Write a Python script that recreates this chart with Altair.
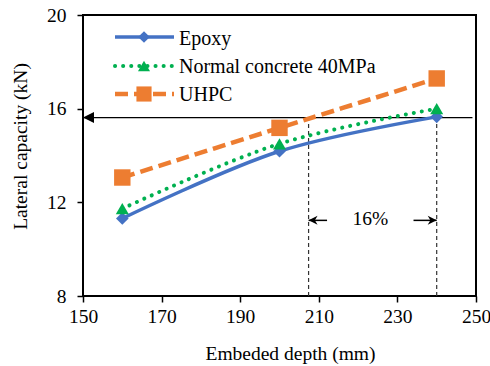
import altair as alt
import pandas as pd

# ---------------- data ----------------
depth = [160, 200, 240]
series = ["Epoxy", "Normal concrete 40MPa", "UHPC"]
epoxy = [11.31, 14.18, 15.65]
normal = [11.73, 14.50, 16.00]
uhpc = [13.06, 15.18, 17.29]

x_ticks = [150, 170, 190, 210, 230, 250]
y_ticks = [8, 12, 16, 20]

ref_level = 15.62          # horizontal reference line (kN)
ref_x_start = 150.0
ref_x_end = 249.1
span_left = 207.4          # left dashed line (mm)
span_right = 240.0         # right dashed line (mm)
span_y = 11.23             # level of the 16% span arrows
shaft_left_end = 212.1
shaft_right_start = 234.1
span_label = "16%"
span_label_x = 223.1

# ---------------- styles ----------------
colors = ["#4472C4", "#00B050", "#ED7D31"]
shapes = ["diamond", "triangle-up", "square"]
sizes = [160, 170, 270]
line_styles = [
    dict(strokeWidth=3.5),
    dict(strokeWidth=4, strokeDash=[0.1, 8], strokeCap="round"),
    dict(strokeWidth=4.5, strokeDash=[13, 6]),
]
FONT = "Liberation Serif, Times New Roman, serif"

xs = alt.Scale(domain=[150, 250], nice=False, zero=False)
ys = alt.Scale(domain=[8, 20], nice=False, zero=False)
xaxis = alt.Axis(values=x_ticks, title="Embeded depth (mm)", grid=False, domain=False,
                 tickSize=6, labelPadding=5, titleX=207, titleY=63, labelFlush=False,
                 titleBaseline="alphabetic", format="d")
yaxis = alt.Axis(values=y_ticks, title="Lateral capacity (kN)", grid=False, domain=False,
                 tickSize=6, labelPadding=11, titleX=-57, titleY=131, labelFlush=False,
                 titleBaseline="alphabetic", titleAngle=-90, format="d")


def X(f):
    return alt.X(f, type="quantitative", scale=xs, axis=xaxis)


def Y(f):
    return alt.Y(f, type="quantitative", scale=ys, axis=yaxis)


layers = []

# reference horizontal arrow
ref_df = pd.DataFrame({"x1": [ref_x_start], "x2": [ref_x_end], "y": [ref_level]})
layers.append(alt.Chart(ref_df).mark_rule(color="black", strokeWidth=1.3).encode(
    x=X("x1"), x2="x2", y=Y("y")))
layers.append(alt.Chart(ref_df).mark_point(shape="M0,0L2,-1L2,1Z", filled=True, color="black",
                                           size=121, opacity=1).encode(x=X("x1"), y=Y("y")))

# vertical dashed lines
vdf = pd.DataFrame({"x": [span_left, span_right], "y1": [8.0, 8.0], "y2": [ref_level, ref_level]})
layers.append(alt.Chart(vdf).mark_rule(color="#333333", strokeWidth=1.2, strokeDash=[4, 3]).encode(
    x=X("x"), y=Y("y1"), y2="y2"))

# span arrows
sdf = pd.DataFrame({"a": [span_left, shaft_right_start], "b": [shaft_left_end, span_right],
                    "y": [span_y, span_y]})
layers.append(alt.Chart(sdf).mark_rule(color="black", strokeWidth=1.5).encode(
    x=X("a"), x2="b", y=Y("y")))
hl = pd.DataFrame({"x": [span_left], "y": [span_y]})
hr = pd.DataFrame({"x": [span_right], "y": [span_y]})
layers.append(alt.Chart(hl).mark_point(shape="M0,0L2,-1L1.4,0L2,1Z", filled=True, color="black",
                                       size=81, opacity=1).encode(x=X("x"), y=Y("y")))
layers.append(alt.Chart(hr).mark_point(shape="M0,0L-2,-1L-1.4,0L-2,1Z", filled=True, color="black",
                                       size=81, opacity=1).encode(x=X("x"), y=Y("y")))
tdf = pd.DataFrame({"x": [span_label_x], "y": [span_y], "t": [span_label]})
layers.append(alt.Chart(tdf).mark_text(font=FONT, fontSize=19.5, color="black", align="center",
                                       baseline="alphabetic", dy=4.5).encode(
    x=X("x"), y=Y("y"), text="t:N"))

# series
for name, vals, col, shp, sz, ls in zip(series, [epoxy, normal, uhpc], colors, shapes, sizes, line_styles):
    df = pd.DataFrame({"depth": depth, "value": vals})
    layers.append(alt.Chart(df).mark_line(color=col, interpolate="catmull-rom", **ls).encode(
        x=X("depth"), y=Y("value")))
    layers.append(alt.Chart(df).mark_point(shape=shp, filled=True, color=col, size=sz, opacity=1).encode(
        x=X("depth"), y=Y("value")))

# manual legend (pixel layout)
leg_sym_y = [22, 51, 79]
leg_txt_y = [30, 58, 86]
for name, col, shp, sz, ls, sy, ty in zip(series, colors, shapes, sizes, line_styles, leg_sym_y, leg_txt_y):
    ldf = pd.DataFrame({"name": [name]})
    layers.append(alt.Chart(ldf).mark_rule(color=col, **ls).encode(
        x=alt.value(32), x2=alt.value(91), y=alt.value(sy)))
    layers.append(alt.Chart(ldf).mark_point(shape=shp, filled=True, color=col, size=sz * 0.85, opacity=1).encode(
        x=alt.value(61), y=alt.value(sy)))
    layers.append(alt.Chart(ldf).mark_text(font=FONT, fontSize=20, color="black", align="left",
                                           baseline="alphabetic").encode(
        x=alt.value(96), y=alt.value(ty), text="name:N"))

chart = alt.layer(*layers).properties(
    width=393, height=281,
    padding={"left": 83, "top": 15, "right": 14, "bottom": 70},
    autosize=alt.AutoSizeParams(type="none"),
    background="white",
).configure_view(stroke="black", strokeWidth=2).configure_axis(
    labelFont=FONT, labelFontSize=19.5, labelColor="black",
    titleFont=FONT, titleFontSize=19.5, titleColor="black", titleFontWeight="normal",
    tickColor="black", tickWidth=1.5,
)

chart.save("out.html", embed_options={"renderer": "svg", "actions": False})
